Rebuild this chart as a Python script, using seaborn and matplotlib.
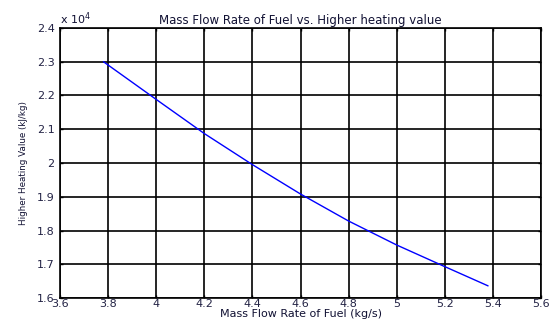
import matplotlib
matplotlib.use("Agg")
import matplotlib.pyplot as plt
import seaborn as sns
import pandas as pd
from matplotlib.ticker import FuncFormatter, MultipleLocator

# Data
mass_flow = [3.78, 4.0, 4.2, 4.4, 4.6, 4.8, 5.0, 5.2, 5.38]
hhv = [23000, 21880, 20870, 19950, 19080, 18280, 17570, 16930, 16360]

title = "Mass Flow Rate of Fuel vs. Higher heating value"
xlabel = "Mass Flow Rate of Fuel (kg/s)"
ylabel = "Higher Heating Value (kJ/kg)"

df = pd.DataFrame({"x": mass_flow, "y": hhv})

sns.set_theme(style="white")
plt.rcParams["font.family"] = ["DejaVu Sans"]

fig = plt.figure(figsize=(5.52, 3.25), dpi=100)
ax = fig.add_axes([0.109, 0.083, 0.871, 0.831])

sns.lineplot(data=df, x="x", y="y", ax=ax, color="#0000ff", linewidth=1.0)

ax.set_xlim(3.6, 5.6)
ax.set_ylim(16000, 24000)
ax.xaxis.set_major_locator(MultipleLocator(0.2))
ax.yaxis.set_major_locator(MultipleLocator(1000))
ax.xaxis.set_major_formatter(FuncFormatter(lambda v, p: f"{v:g}"))
ax.yaxis.set_major_formatter(FuncFormatter(lambda v, p: f"{v/1e4:g}"))

ax.grid(True, color="black", linewidth=1.2, linestyle="-")
for s in ax.spines.values():
    s.set_color("black")
    s.set_linewidth(1.2)
ax.tick_params(axis="both", direction="in", length=2, width=1, colors="black",
               labelsize=8, labelcolor="#222244",
               top=True, right=True, bottom=True, left=True)
ax.tick_params(axis="x", pad=1)
ax.tick_params(axis="y", pad=4)

ax.set_title(title, fontsize=8.5, color="#111133", pad=3)
ax.set_xlabel(xlabel, fontsize=8, color="#111133", labelpad=0)
ax.set_ylabel(ylabel, fontsize=6.3, color="#111133", labelpad=6)

ax.text(0.0, 1.005, "x 10$^4$", transform=ax.transAxes, fontsize=8, color="#111133",
        ha="left", va="bottom")

fig.savefig("out.png", dpi=100)
